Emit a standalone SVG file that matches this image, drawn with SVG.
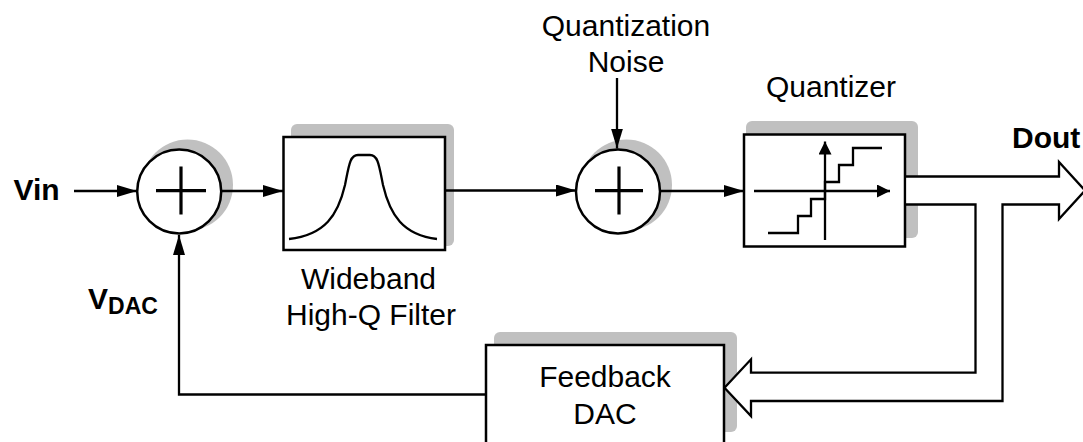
<svg xmlns="http://www.w3.org/2000/svg" width="1083" height="442" viewBox="0 0 1083 442">
<defs>
<style>
.ln{fill:none;stroke:#000;stroke-width:2.3}
.box{fill:#fff;stroke:#000;stroke-width:2.5}
.sh{fill:#c0c0c0;stroke:none}
.plus{stroke:#000;stroke-width:3.2;fill:none}
.t{font-family:"Liberation Sans",Arial,sans-serif;font-size:30px;fill:#000;text-anchor:middle}
.b{font-family:"Liberation Sans",Arial,sans-serif;font-weight:bold;font-size:30px;fill:#000}
</style>
<marker id="ah" markerUnits="userSpaceOnUse" viewBox="0 0 20 12" refX="20" refY="6" markerWidth="20" markerHeight="12" orient="auto">
<path d="M0,0 L20,6 L0,12 z" fill="#000"/>
</marker>
<marker id="ahs" markerUnits="userSpaceOnUse" viewBox="0 0 13 13" refX="13" refY="6.5" markerWidth="13" markerHeight="13" orient="auto">
<path d="M0,0 L13,6.5 L0,13 z" fill="#000"/>
</marker>
</defs>
<rect width="1083" height="442" fill="#fff"/>

<g id="sum1">
<circle class="sh" cx="187.5" cy="185" r="45.5"/>
<circle class="box" cx="179.2" cy="191.5" r="42"/>
<path class="plus" d="M156,190.7 H206 M181,166.5 V214.5"/>
</g>

<g id="filter">
<rect class="sh" x="291" y="124" width="163" height="122" rx="6"/>
<rect class="box" x="283.5" y="137" width="161.5" height="113"/>
<path class="ln" d="M289,239 C325,235 338,215 345,185 C349,165 350,155 358,155 L370,155 C378,155 379,165 383,185 C390,215 403,235 437,239"/>
<text class="t" x="368.5" y="289">Wideband</text>
<text class="t" x="371" y="325">High-Q Filter</text>
</g>

<g id="sum2">
<circle class="sh" cx="626.5" cy="185" r="45.5"/>
<circle class="box" cx="618" cy="191.5" r="42"/>
<path class="plus" d="M595,190.7 H643 M619,166.5 V214.5"/>
<text class="t" x="626" y="36">Quantization</text>
<text class="t" x="626" y="72">Noise</text>
</g>

<g id="quantizer">
<rect class="sh" x="746" y="121" width="172" height="117" rx="6"/>
<rect class="box" x="744" y="134.5" width="161" height="112"/>
<path class="ln" d="M754,191 H890" marker-end="url(#ahs)"/>
<path class="ln" d="M825,240 V141.5" marker-end="url(#ahs)"/>
<path class="ln" d="M768,233 H798 V216 H811 V199 H825 V182 H839 V165 H853 V148 H882"/>
<text class="t" x="831" y="97">Quantizer</text>
</g>

<g id="dac">
<rect class="sh" x="494" y="332" width="243" height="100" rx="6"/>
<rect class="box" x="486" y="345" width="238" height="110"/>
<text class="t" x="605" y="387">Feedback</text>
<text class="t" x="605" y="424">DAC</text>
</g>

<g id="labels">
<text class="b" x="13.5" y="200">Vin</text>
<text class="b" x="1012" y="148">Dout</text>
<text class="b" x="88" y="309">V<tspan font-size="23" dy="5">DAC</tspan></text>
</g>

<g id="connectors">
<path class="ln" d="M74,191 H137" marker-end="url(#ah)"/>
<path class="ln" d="M222,191 H283" marker-end="url(#ah)"/>
<path class="ln" d="M445,190.5 H576" marker-end="url(#ah)"/>
<path class="ln" d="M617,78 V148.5" marker-end="url(#ah)"/>
<path class="ln" d="M660,191 H744" marker-end="url(#ah)"/>
<path class="ln" d="M486,394.5 H179 V235" marker-end="url(#ah)"/>
<path fill="#fff" stroke="none" d="M906.3,176.5 H1059 V162 L1085,190.5 L1059,219 V204.5 H1002.5 V401 H751 V416 L724.5,387.7 L751,359.3 V372.7 H975.5 V204.5 H906.3 Z"/>
<path class="ln" d="M905,176.5 H1059 V162 L1085,190.5 L1059,219 V204.5 H1002.5 V401 H751 V416 L724.5,387.7 L751,359.3 V372.7 H975.5 V204.5 H905"/>
</g>
</svg>
